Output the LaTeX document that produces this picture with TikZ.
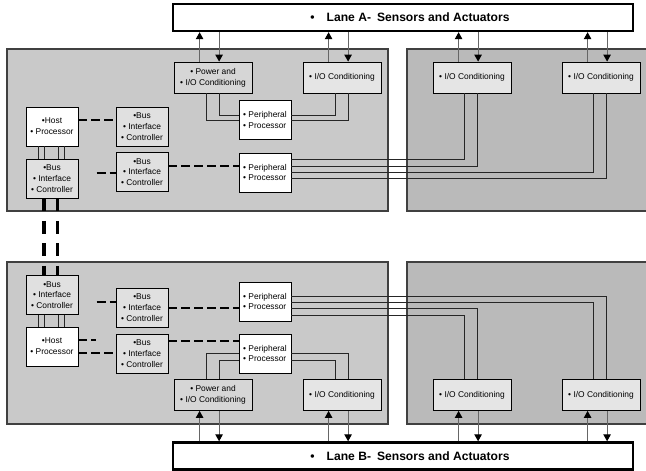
\documentclass[tikz,border=0pt]{standalone}
\usepackage{fontspec}
\setmainfont{Liberation Sans}
\usetikzlibrary{arrows.meta,calc}

\definecolor{panelL}{gray}{0.79}
\definecolor{panelR}{gray}{0.73}
\definecolor{pwrfill}{gray}{0.84}
\definecolor{iofill}{gray}{0.90}
\definecolor{bicfill}{gray}{0.88}

\newcommand{\bt}{\textbullet}

\begin{document}
\begin{tikzpicture}[x=1pt,y=-1pt,
  every node/.style={font=\fontsize{8.4}{10.8}\selectfont, inner sep=0pt},
  unit/.style={draw=black, line width=0.8pt, align=center},
  pwrbox/.style={unit, fill=pwrfill, minimum width=78pt, minimum height=31pt},
  iobox/.style={unit, fill=iofill, minimum width=78pt, minimum height=31pt},
  bicbox/.style={unit, fill=bicfill, minimum width=52pt, minimum height=39pt},
  hostbox/.style={unit, fill=white, minimum width=52pt, minimum height=39pt},
  ppbox/.style={unit, fill=white, minimum width=52pt, minimum height=39pt, align=left},
  lanebox/.style={draw=black, line width=2.4pt, fill=white, minimum width=460pt,
    minimum height=27pt, font=\bfseries\fontsize{12.1}{14}\selectfont},
  panel/.style={draw=black!75, line width=1.1pt},
  wire/.style={draw=black!85, line width=0.8pt},
  link/.style={draw=black, line width=2pt, dash pattern=on 9pt off 4pt},
  feed/.style={draw=black!60, line width=1pt,
    -{Triangle[width=7.5pt,length=7pt,color=black]}},
  bus/.style={draw=black, line width=3.4pt, dash pattern=on 13pt off 9.5pt}
]
\useasboundingbox (0,0) rectangle (646,471);

% backplanes of the two lanes
\fill[panelL] (7,49) rectangle (388,211);
\draw[panel] (7,49) rectangle (388,211);
\fill[panelR] (407,49) rectangle (646,211);
\draw[panel] (646,49) -- (407,49) -- (407,211) -- (646,211);

\fill[panelL] (7,262) rectangle (388,424);
\draw[panel] (7,262) rectangle (388,424);
\fill[panelR] (407,262) rectangle (646,424);
\draw[panel] (646,262) -- (407,262) -- (407,424) -- (646,424);

% sensor / actuator buses
\node[lanebox] (laneA) at (403,17.5) {\hspace*{14pt}\bt\hspace{12pt}Lane A-\hspace{6pt}Sensors and Actuators};
\node[lanebox] (laneB) at (403,456) {\hspace*{14pt}\bt\hspace{12pt}Lane B-\hspace{6pt}Sensors and Actuators};

% lane A units
\node[pwrbox] (pwrA) at (213,77.5) {\bt~Power and\\\bt~I/O Conditioning};
\node[iobox] (ioA1) at (342,77.5) {\bt~I/O Conditioning};
\node[iobox] (ioA2) at (472,77.5) {\bt~I/O Conditioning};
\node[iobox] (ioA3) at (601,77.5) {\bt~I/O Conditioning};
\node[hostbox] (hostA) at (52,126.5) {\bt Host\\\bt~Processor};
\node[bicbox] (bicA) at (52,178.5) {\bt Bus\\\bt~Interface\\\bt~Controller};
\node[bicbox] (bicA1) at (142,126.5) {\bt Bus\\\bt~Interface\\\bt~Controller};
\node[bicbox] (bicA2) at (142,172) {\bt Bus\\\bt~Interface\\\bt~Controller};
\node[ppbox] (ppA1) at (265,120) {\bt~Peripheral\\\bt~Processor};
\node[ppbox] (ppA2) at (265,172.5) {\bt~Peripheral\\\bt~Processor};

% lane B units
\node[bicbox] (bicB) at (52,295) {\bt Bus\\\bt~Interface\\\bt~Controller};
\node[hostbox] (hostB) at (52,346.5) {\bt Host\\\bt~Processor};
\node[bicbox] (bicB1) at (142,307.5) {\bt Bus\\\bt~Interface\\\bt~Controller};
\node[bicbox] (bicB2) at (142,353.5) {\bt Bus\\\bt~Interface\\\bt~Controller};
\node[ppbox] (ppB1) at (265,301.5) {\bt~Peripheral\\\bt~Processor};
\node[ppbox] (ppB2) at (265,353.5) {\bt~Peripheral\\\bt~Processor};
\node[pwrbox] (pwrB) at (213,395) {\bt~Power and\\\bt~I/O Conditioning};
\node[iobox] (ioB1) at (342,395) {\bt~I/O Conditioning};
\node[iobox] (ioB2) at (472,395) {\bt~I/O Conditioning};
\node[iobox] (ioB3) at (601,395) {\bt~I/O Conditioning};

% sensor feeds: up to the bus and down to the unit
\foreach \b in {pwrA,ioA1,ioA2,ioA3}{
  \path ($(\b.north west)+(26,0)$) coordinate (fu) ($(\b.north west)+(45.5,0)$) coordinate (fd);
  \draw[feed] (fu) -- (fu |- laneA.south);
  \draw[feed] (fd |- laneA.south) -- (fd);
}
\foreach \b in {pwrB,ioB1,ioB2,ioB3}{
  \path ($(\b.south west)+(26,0)$) coordinate (fu) ($(\b.south west)+(45.5,0)$) coordinate (fd);
  \draw[feed] (fu |- laneB.north) -- (fu);
  \draw[feed] (fd) -- (fd |- laneB.north);
}

% lane A wiring
\draw[wire] ($(pwrA.south west)+(33,0)$) |- (ppA1.west);
\draw[wire] ($(pwrA.south west)+(46,0)$) |- ($(ppA1.west)+(0,-5)$);
\draw[wire] ($(ppA1.east)+(0,-5)$) -| ($(ioA1.south west)+(33,0)$);
\draw[wire] (ppA1.east) -| ($(ioA1.south west)+(46,0)$);
\draw[wire] ($(ppA2.east)+(0,-13.5)$) -| ($(ioA2.south west)+(32,0)$);
\draw[wire] ($(ppA2.east)+(0,-6.5)$) -| ($(ioA2.south west)+(45,0)$);
\draw[wire] ($(ppA2.east)+(0,-0.5)$) -| ($(ioA3.south west)+(32,0)$);
\draw[wire] ($(ppA2.east)+(0,5.5)$) -| ($(ioA3.south west)+(45,0)$);

% lane B wiring
\draw[wire] ($(ppB1.east)+(0,-5.5)$) -| ($(ioB3.north west)+(45,0)$);
\draw[wire] ($(ppB1.east)+(0,0.5)$) -| ($(ioB3.north west)+(32,0)$);
\draw[wire] ($(ppB1.east)+(0,6.5)$) -| ($(ioB2.north west)+(45,0)$);
\draw[wire] ($(ppB1.east)+(0,13.5)$) -| ($(ioB2.north west)+(32,0)$);
\draw[wire] ($(ppB2.west)+(0,-0.5)$) -| ($(pwrB.north west)+(33,0)$);
\draw[wire] ($(ppB2.west)+(0,6.5)$) -| ($(pwrB.north west)+(46,0)$);
\draw[wire] ($(ppB2.east)+(0,-0.5)$) -| ($(ioB1.north west)+(46,0)$);
\draw[wire] ($(ppB2.east)+(0,6.5)$) -| ($(ioB1.north west)+(33,0)$);

% host to local bus interface
\foreach \dx in {13,19,33,39}{
  \draw[wire] ($(hostA.south west)+(\dx,0)$) -- ($(bicA.north west)+(\dx,0)$);
  \draw[wire] ($(bicB.south west)+(\dx,0)$) -- ($(hostB.north west)+(\dx,0)$);
}

% cross-lane data links
\foreach \dx in {18.5,32}{
  \draw[bus] ($(bicA.south west)+(\dx,0)$) -- ($(bicB.north west)+(\dx,0)$);
}

% dashed interface links, lane A
\coordinate (stubA) at ($(bicA2.west)+(-19,1)$);
\coordinate (busA2) at ($(bicA2.east)+(0,-6)$);
\draw[link] ($(hostA.east)+(0,-6.5)$) -- ($(bicA1.west)+(0,-6.5)$);
\draw[link] (stubA) -- ($(bicA2.west)+(0,1)$);
\draw[link] (busA2) -- (busA2 -| ppA2.west);

% dashed interface links, lane B
\coordinate (stubB) at ($(bicB1.west)+(-19,-5.5)$);
\coordinate (stubH) at ($(hostB.east)+(18,-6.5)$);
\draw[link] (stubB) -- ($(bicB1.west)+(0,-5.5)$);
\draw[link] ($(bicB1.east)+(0,0.5)$) -- ($(ppB1.west)+(0,6.5)$);
\draw[link] ($(hostB.east)+(0,-6.5)$) -- (stubH);
\draw[link] ($(hostB.east)+(0,6.5)$) -- ($(bicB2.west)+(0,-0.5)$);
\draw[link] ($(bicB2.east)+(0,-13)$) -- ($(ppB2.west)+(0,-13)$);
\end{tikzpicture}
\end{document}
